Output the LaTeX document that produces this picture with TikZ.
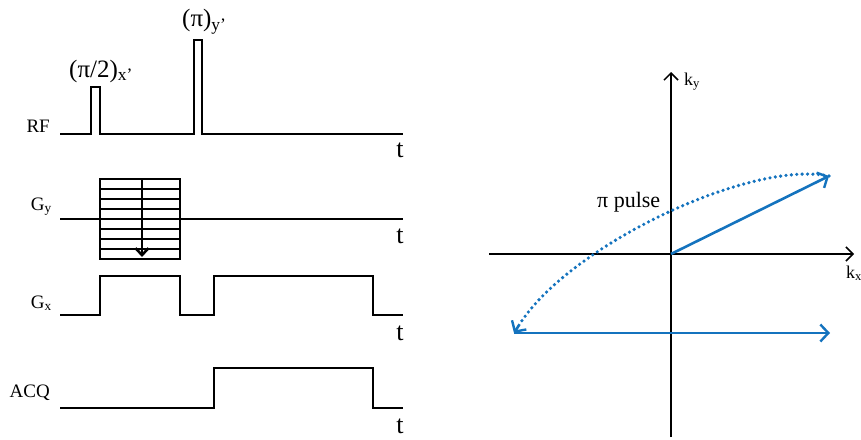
\documentclass[tikz,border=0pt]{standalone}
\usepackage{fontspec}
\setmainfont{Liberation Serif}
\usetikzlibrary{arrows.meta}
\definecolor{kblue}{RGB}{20,115,190}
\begin{document}
\begin{tikzpicture}[x=1pt,y=-1pt,
    sig/.style={line width=2.8pt, line join=miter},
    lab/.style={anchor=base east, inner sep=0pt, font=\fontsize{19}{22}\selectfont},
    tlab/.style={anchor=base, inner sep=0pt, font=\fontsize{26}{28}\selectfont},
    note/.style={anchor=base west, inner sep=0pt, font=\fontsize{22}{26}\selectfont},
    pulselab/.style={anchor=base west, inner sep=0pt, font=\fontsize{25}{28}\selectfont},
    axis/.style={line width=1.5pt, -{Straight Barb[length=7pt,width=14pt,line width=1.5pt]}},
    traj/.style={kblue, line width=2.6pt, -{Straight Barb[length=8pt,width=17pt,line width=2.4pt]}}]
    \useasboundingbox (0,0) rectangle (861,439);

    % Etiquettes
    \node[lab] (rf) at (50,132) {RF};
    \node[lab] (gy) at (52,210) {G\textsubscript{y}};
    \node[lab] (gx) at (52,308) {G\textsubscript{x}};
    \node[lab] (acq) at (50,397) {ACQ};
    \node[pulselab] (p90) at (69,77) {(π/2)\textsubscript{x’}};
    \node[pulselab] (p180) at (182,27) {(π)\textsubscript{y’}};

    % Axes du temps
    \node[tlab] (t1) at (400,157) {t};
    \node[tlab] (t2) at (400,243) {t};
    \node[tlab] (t3) at (400,340) {t};
    \node[tlab] (t4) at (400,433) {t};

    % Signaux
    \draw[sig] (60,134) -- (91,134) -- (91,87) -- (100,87) -- (100,134)
        -- (194,134) -- (194,40) -- (202,40) -- (202,134) -- (403,134);
    \draw[sig] (60,219) -- (403,219);
    \draw[sig] (100,179) rectangle (180,259);
    \foreach \y in {189,199,209,229,239,249}
        \draw[line width=1.6pt] (100,\y) -- (180,\y);
    \draw[sig, -{Straight Barb[length=7pt,width=13pt,line width=2.6pt]}] (142,179) -- (142,257);
    \draw[sig] (60,315) -- (100,315) -- (100,276) -- (180,276) -- (180,315)
        -- (214,315) -- (214,276) -- (373,276) -- (373,315) -- (403,315);
    \draw[sig] (60,408) -- (214,408) -- (214,368) -- (373,368) -- (373,408) -- (403,408);

    % Espace k
    \coordinate (o) at (671,254);
    \coordinate (xa) at (489,254);
    \coordinate (xb) at (854,254);
    \coordinate (ya) at (671,437);
    \coordinate (yb) at (671,72);
    \coordinate (kA) at (829,176);
    \coordinate (kB) at (514,333);
    \coordinate (kB0) at (519.6,324.2);
    \coordinate (kC) at (830,333);
    \draw[axis] (xa) -- (xb);
    \draw[axis] (ya) -- (yb);
    \node[anchor=base west, inner sep=0pt, font=\fontsize{18}{20}\selectfont] (ky) at (684,85) {k\textsubscript{y}};
    \node[anchor=base west, inner sep=0pt, font=\fontsize{18}{20}\selectfont] (kx) at (846,278) {k\textsubscript{x}};

    \draw[traj] (o) -- (kA);
    \draw[kblue, dash pattern=on 0pt off 5.4pt, line cap=round, line width=3.6pt]
        (kA) .. controls (750,160) and (570,245) .. (kB0);
    \draw[traj] (kB0) -- (kB);
    \draw[traj] (kB) -- (kC);
    \node[note] (pulse) at (597,207) {π pulse};
\end{tikzpicture}
\end{document}
